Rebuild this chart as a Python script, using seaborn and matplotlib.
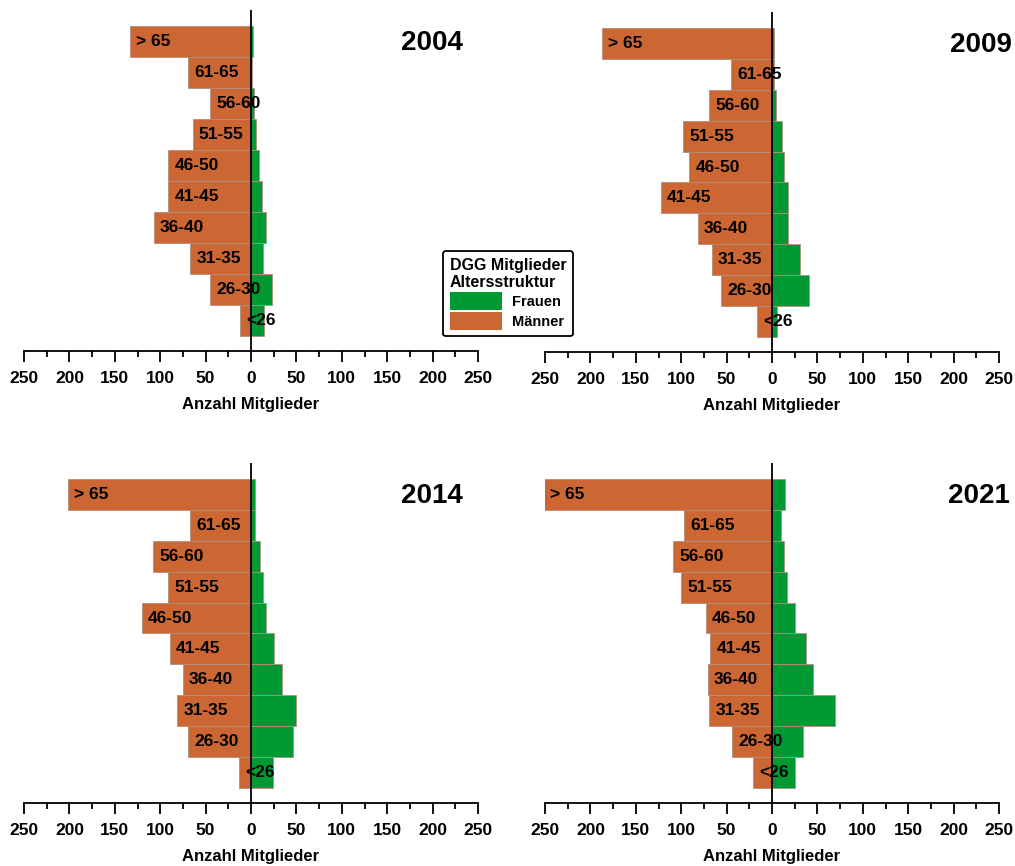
import matplotlib
matplotlib.use("Agg")
import matplotlib.pyplot as plt
import matplotlib.patches as mpatches
from matplotlib.ticker import MultipleLocator, FuncFormatter
import pandas as pd
import seaborn as sns

# ── Data ────────────────────────────────────────────────────────────────────
AGE_GROUPS = ["> 65", "61-65", "56-60", "51-55", "46-50",
              "41-45", "36-40", "31-35", "26-30", "<26"]
YEARS = ["2004", "2009", "2014", "2021"]

MEN_2004 = [133, 69, 45, 64, 91, 91, 107, 67, 45, 12]
WOMEN_2004 = [2, 1, 3, 5, 9, 12, 16, 13, 23, 14]

MEN_2009 = [187, 45, 69, 98, 91, 122, 82, 66, 56, 16]
WOMEN_2009 = [2, 2, 4, 11, 13, 18, 18, 31, 41, 6]

MEN_2014 = [202, 67, 108, 91, 120, 89, 75, 81, 69, 13]
WOMEN_2014 = [4, 4, 10, 13, 17, 25, 34, 50, 46, 24]

MEN_2021 = [251, 97, 109, 100, 73, 68, 71, 69, 44, 21]
WOMEN_2021 = [14, 10, 13, 16, 25, 37, 45, 69, 34, 25]

MEN = [MEN_2004, MEN_2009, MEN_2014, MEN_2021]
WOMEN = [WOMEN_2004, WOMEN_2009, WOMEN_2014, WOMEN_2021]

GREEN = "#009933"
ORANGE = "#CC6633"

sns.set_theme(style="white")
plt.rcParams["font.family"] = ["Liberation Sans", "DejaVu Sans"]
plt.rcParams["font.weight"] = "bold"
plt.rcParams["text.color"] = "black"
plt.rcParams["axes.labelcolor"] = "black"
plt.rcParams["xtick.color"] = "black"
plt.rcParams["xtick.labelcolor"] = "black"

fig = plt.figure(figsize=(10.15, 8.66), dpi=100)
W, H = 1015, 866

# panel rectangles in pixels: (left, top, right, bottom)
PANELS = [(24, 10, 478, 351), (545, 12, 999, 352),
          (24, 463, 478, 803), (545, 463, 999, 803)]
YEAR_X = [233, 264, 233, 262]

for i, year in enumerate(YEARS):
    l, t, r, b = PANELS[i]
    ax = fig.add_axes([l / W, 1 - b / H, (r - l) / W, (b - t) / H])

    df = pd.DataFrame({
        "age": AGE_GROUPS * 2,
        "value": [-m for m in MEN[i]] + WOMEN[i],
        "sex": ["Männer"] * 10 + ["Frauen"] * 10,
    })
    sns.barplot(data=df, x="value", y="age", hue="sex", orient="h",
                order=AGE_GROUPS, hue_order=["Männer", "Frauen"],
                palette={"Männer": ORANGE, "Frauen": GREEN},
                saturation=1, dodge=False, width=1.0, legend=False, ax=ax,
                edgecolor="#b09080", linewidth=0.6)

    ax.set_xlim(-250, 250)
    ax.set_ylim(9.5 + 15 / 31, -0.5 - 16 / 31)
    ax.axvline(0, color="black", lw=1.3, zorder=5)

    for s in ["top", "right", "left"]:
        ax.spines[s].set_visible(False)
    ax.spines["bottom"].set_color("black")
    ax.spines["bottom"].set_linewidth(1.3)

    ax.xaxis.set_major_locator(MultipleLocator(50))
    ax.xaxis.set_minor_locator(MultipleLocator(25))
    ax.xaxis.set_major_formatter(FuncFormatter(lambda v, p: f"{abs(int(round(v)))}"))
    ax.tick_params(axis="x", which="major", direction="out", length=8,
                   width=1.3, color="black", bottom=True, labelsize=12.5, pad=6.5)
    ax.tick_params(axis="x", which="minor", direction="out", length=4,
                   width=1.3, color="black", bottom=True)
    for lab in ax.get_xticklabels():
        lab.set_fontweight("bold")
    ax.set_yticks([])
    ax.set_ylabel("")
    ax.set_xlabel("Anzahl Mitglieder", fontsize=12, fontweight="bold", labelpad=8)

    for j, age in enumerate(AGE_GROUPS):
        ax.annotate(age, xy=(-MEN[i][j], j), xytext=(6, 0),
                    textcoords="offset pixels", ha="left", va="center",
                    fontsize=12.5, fontweight="bold", color="black", zorder=6,
                    annotation_clip=False)

    ax.text(YEAR_X[i], 0.05, year, ha="right", va="center",
            fontsize=20, fontweight="bold", color="black")

handles = [mpatches.Patch(facecolor=GREEN, edgecolor="none", label="Frauen"),
           mpatches.Patch(facecolor=ORANGE, edgecolor="none", label="Männer")]
leg = fig.legend(handles=handles, loc="upper left",
                 bbox_to_anchor=(443 / W, 1 - 251 / H), borderaxespad=0,
                 title="DGG Mitglieder\nAltersstruktur",
                 prop={"size": 10.5, "weight": "bold"},
                 title_fontproperties={"size": 11.5, "weight": "bold"},
                 alignment="left", handlelength=3.6, handleheight=1.5,
                 handletextpad=0.7, labelspacing=0.15, borderpad=0.45,
                 frameon=True, fancybox=True, framealpha=1)
leg.get_frame().set_edgecolor("black")
leg.get_frame().set_linewidth(1.3)

fig.savefig("out.png", dpi=100)
